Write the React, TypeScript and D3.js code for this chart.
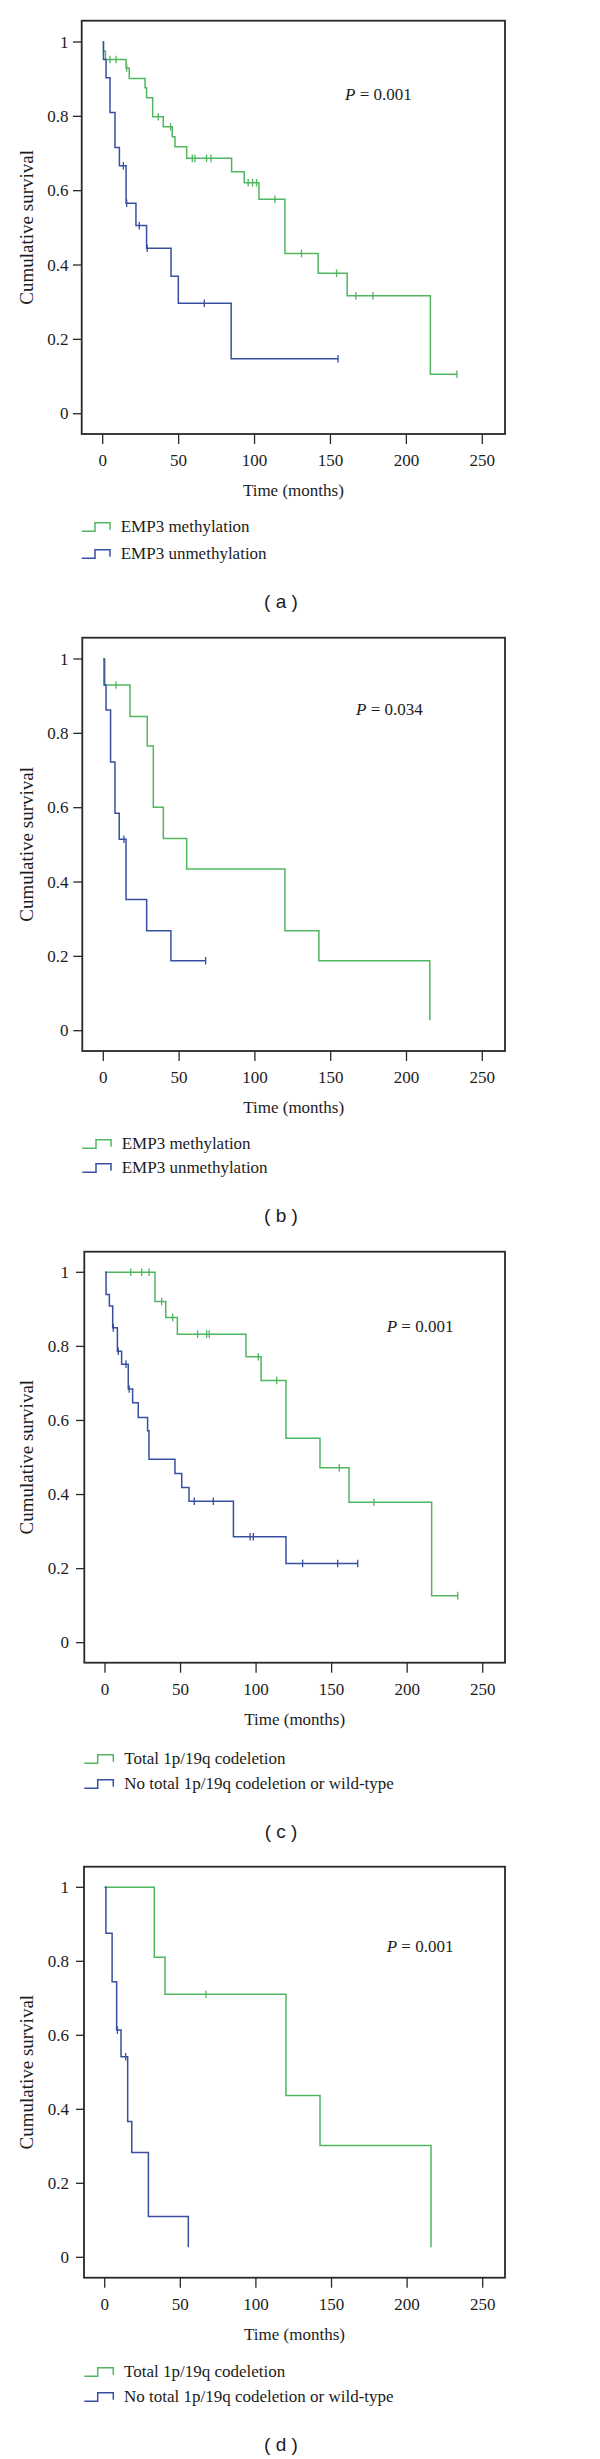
import React from 'react';
import * as d3 from 'd3';

// ---------- shared axis values ----------
const xTicks = [0, 50, 100, 150, 200, 250];
const yTicks = [0, 0.2, 0.4, 0.6, 0.8, 1];

// ---------- panel (a): EMP3, all ----------
const aMethTimes = [0, 0.5, 1.8, 15.4, 17.5, 27.9, 28.9, 32.9, 39.9, 45.8, 47.6, 55.3, 84.9, 93.2, 102.9, 120, 141.9, 161, 215.8];
const aMethSurv = [1, 0.976, 0.953, 0.93, 0.902, 0.877, 0.85, 0.799, 0.772, 0.745, 0.718, 0.687, 0.651, 0.6215, 0.577, 0.431, 0.378, 0.317, 0.106];
const aMethCensor = [4.8, 8.8, 15.8, 36.6, 44.7, 59, 60.7, 68.4, 71.3, 95.8, 98.7, 101.3, 113.4, 130.9, 154, 166.7, 178, 233.3];
const aUnTimes = [0, 0.5, 2.2, 4.8, 8.1, 11, 15.4, 21.9, 28.9, 45, 49.8, 84.6];
const aUnSurv = [1, 0.953, 0.904, 0.81, 0.716, 0.667, 0.566, 0.506, 0.445, 0.3695, 0.297, 0.148];
const aUnCensor = [13.6, 15.8, 24.1, 29.3, 66.9, 155];

// ---------- panel (b) ----------
const bMethTimes = [0, 1, 17.6, 29, 33, 39.6, 55, 119.8, 142.2, 215.4];
const bMethSurv = [1, 0.93, 0.845, 0.766, 0.601, 0.517, 0.435, 0.269, 0.188, 0.028];
const bMethCensor = [8.4];
const bUnTimes = [0, 0.5, 1.8, 4.8, 7.7, 10.5, 15, 28.6, 44.6];
const bUnSurv = [1, 0.93, 0.863, 0.723, 0.585, 0.515, 0.353, 0.269, 0.188];
const bUnCensor = [13.6, 67.5];

// ---------- panel (c) ----------
const cCodelTimes = [0, 33.1, 40.2, 47.9, 93.3, 103.3, 119.8, 142.3, 161.5, 216.2];
const cCodelSurv = [1, 0.921, 0.878, 0.833, 0.772, 0.708, 0.552, 0.472, 0.379, 0.127];
const cCodelCensor = [17, 24.3, 29.2, 37.5, 44.8, 61.3, 67.3, 69, 101.5, 113.6, 155.1, 178, 233.5];
const cNoTimes = [0, 0.7, 2.9, 5.1, 8.2, 11, 15.4, 18.3, 22, 28.2, 29.1, 46.3, 50.8, 55.6, 85, 119.8];
const cNoSurv = [1, 0.94, 0.909, 0.85, 0.787, 0.752, 0.685, 0.648, 0.608, 0.572, 0.495, 0.457, 0.419, 0.382, 0.286, 0.214];
const cNoCensor = [5.5, 8.8, 13.9, 16, 59.1, 71.7, 96, 98.2, 130.8, 154, 167.3];

// ---------- panel (d) ----------
const dCodelTimes = [0, 32.8, 39.9, 119.9, 142.4, 215.8];
const dCodelSurv = [1, 0.811, 0.711, 0.437, 0.302, 0.027];
const dCodelCensor = [67];
const dNoTimes = [0, 0.8, 4.9, 7.9, 10.8, 15.2, 17.9, 28.9, 55.3];
const dNoSurv = [1, 0.876, 0.745, 0.614, 0.542, 0.367, 0.283, 0.11, 0.027];
const dNoCensor = [8.4, 13.9];

const legendEMP3 = ['EMP3 methylation', 'EMP3 unmethylation'];
const legend1p19q = ['Total 1p/19q codeletion', 'No total 1p/19q codeletion or wild-type'];
const pValues = ['0.001', '0.034', '0.001', '0.001'];
const captions = ['( a )', '( b )', '( c )', '( d )'];

const GREEN = '#50b660';
const BLUE = '#3750a2';
const INK = '#1c1c1c';
const SERIF = "'Liberation Serif', 'Times New Roman', serif";
const SANS = "'Liberation Sans', Arial, sans-serif";

type Curve = { times: number[]; surv: number[]; censor: number[]; color: string };

type PanelCfg = {
  frame: [number, number, number, number]; // left, top, right, bottom
  x0: number; x250: number; y1: number; y0: number;
  tickStart: number; labelEnd: number;
  pX: number; pY: number; p: string;
  legend: string[]; legX: number; legStep: number; legEnd: number; legTextX: number; legY: number[];
  caption: string; capY: number;
  curves: Curve[];
};

const panels: PanelCfg[] = [
  {
    frame: [81.7, 20.7, 505, 434], x0: 102.7, x250: 482.3, y1: 42, y0: 413.7,
    tickStart: 73, labelEnd: 68.5, pX: 345, pY: 100, p: pValues[0],
    legend: legendEMP3, legX: 81.7, legStep: 95, legEnd: 110, legTextX: 120.7, legY: [532.3, 559.3],
    caption: captions[0], capY: 600.7,
    curves: [
      { times: aMethTimes, surv: aMethSurv, censor: aMethCensor, color: GREEN },
      { times: aUnTimes, surv: aUnSurv, censor: aUnCensor, color: BLUE },
    ],
  },
  {
    frame: [82.3, 637.7, 505, 1051], x0: 103.3, x250: 482.3, y1: 659, y0: 1030.7,
    tickStart: 73.3, labelEnd: 68.5, pX: 356, pY: 715, p: pValues[1],
    legend: legendEMP3, legX: 82.3, legStep: 96, legEnd: 111, legTextX: 121.7, legY: [1149.3, 1173.3],
    caption: captions[1], capY: 1215,
    curves: [
      { times: bMethTimes, surv: bMethSurv, censor: bMethCensor, color: GREEN },
      { times: bUnTimes, surv: bUnSurv, censor: bUnCensor, color: BLUE },
    ],
  },
  {
    frame: [84.3, 1251.7, 505, 1662.7], x0: 105, x250: 482.7, y1: 1272.3, y0: 1642.7,
    tickStart: 76, labelEnd: 69, pX: 386.7, pY: 1332, p: pValues[2],
    legend: legend1p19q, legX: 84.3, legStep: 97.7, legEnd: 113.3, legTextX: 124.3, legY: [1764.3, 1789.3],
    caption: captions[2], capY: 1831.5,
    curves: [
      { times: cCodelTimes, surv: cCodelSurv, censor: cCodelCensor, color: GREEN },
      { times: cNoTimes, surv: cNoSurv, censor: cNoCensor, color: BLUE },
    ],
  },
  {
    frame: [84, 1866.7, 505, 2277.7], x0: 104.7, x250: 482.7, y1: 1887.3, y0: 2257.3,
    tickStart: 76, labelEnd: 69, pX: 386.7, pY: 1951.7, p: pValues[3],
    legend: legend1p19q, legX: 84.3, legStep: 97.7, legEnd: 113.3, legTextX: 124, legY: [2377.3, 2402.3],
    caption: captions[3], capY: 2444,
    curves: [
      { times: dCodelTimes, surv: dCodelSurv, censor: dCodelCensor, color: GREEN },
      { times: dNoTimes, surv: dNoSurv, censor: dNoCensor, color: BLUE },
    ],
  },
];

function survAt(c: Curve, t: number) {
  const i = d3.bisectRight(c.times, t) - 1;
  return c.surv[Math.max(0, i)];
}

const yFmt = (d: number) => d3.format('~g')(d);

function KMPanel({ cfg }: { cfg: PanelCfg }) {
  const [L, T, R, B] = cfg.frame;
  const x = d3.scaleLinear().domain([0, 250]).range([cfg.x0, cfg.x250]);
  const y = d3.scaleLinear().domain([0, 1]).range([cfg.y0, cfg.y1]);
  const line = d3
    .line<[number, number]>()
    .x((d) => x(d[0]))
    .y((d) => y(d[1]))
    .curve(d3.curveStepAfter);

  return (
    <g>
      {/* curves */}
      {cfg.curves.map((c, ci) => {
        const pts: [number, number][] = c.times.map((t, i) => [t, c.surv[i]]);
        const tEnd = Math.max(c.times[c.times.length - 1], ...(c.censor.length ? c.censor : [0]));
        if (tEnd > c.times[c.times.length - 1]) pts.push([tEnd, c.surv[c.surv.length - 1]]);
        return (
          <g key={ci}>
            <path d={line(pts) || ''} fill="none" stroke={c.color} strokeWidth={1.5} />
            {c.censor.map((t, k) => {
              const cx = x(t);
              const cy = y(survAt(c, t));
              return (
                <line key={k} x1={cx} x2={cx} y1={cy - 3.8} y2={cy + 3.8} stroke={c.color} strokeWidth={1.3} />
              );
            })}
          </g>
        );
      })}

      {/* frame */}
      <rect x={L} y={T} width={R - L} height={B - T} fill="none" stroke="#282828" strokeWidth={1.8} />

      {/* y axis */}
      {yTicks.map((v) => (
        <g key={v}>
          <line x1={cfg.tickStart} x2={L} y1={y(v)} y2={y(v)} stroke="#282828" strokeWidth={1.3} />
          <text x={cfg.labelEnd} y={y(v)} dy="0.33em" textAnchor="end" fontFamily={SERIF} fontSize={17} fill={INK}>
            {yFmt(v)}
          </text>
        </g>
      ))}
      <text
        transform={`translate(27,${(T + B) / 2}) rotate(-90)`}
        textAnchor="middle"
        dy="0.33em"
        fontFamily={SERIF}
        fontSize={19}
        fill={INK}
      >
        Cumulative survival
      </text>

      {/* x axis */}
      {xTicks.map((v) => (
        <g key={v}>
          <line x1={x(v)} x2={x(v)} y1={B} y2={B + 10} stroke="#282828" strokeWidth={1.3} />
          <text x={x(v)} y={B + 32} textAnchor="middle" fontFamily={SERIF} fontSize={17} fill={INK}>
            {v}
          </text>
        </g>
      ))}
      <text x={(L + R) / 2} y={B + 62} textAnchor="middle" fontFamily={SERIF} fontSize={17} fill={INK}>
        Time (months)
      </text>

      {/* p value */}
      <text x={cfg.pX} y={cfg.pY} fontFamily={SERIF} fontSize={17} fill={INK}>
        <tspan fontStyle="italic">P</tspan>
        <tspan> = {cfg.p}</tspan>
      </text>

      {/* legend */}
      {cfg.legend.map((name, i) => {
        const by = cfg.legY[i];
        const color = cfg.curves[i].color;
        const lo = by - 1;
        const hi = by - 9.5;
        return (
          <g key={name}>
            <path
              d={`M${cfg.legX},${lo} H${cfg.legStep} V${hi} H${cfg.legEnd} V${lo - 1.5}`}
              fill="none"
              stroke={color}
              strokeWidth={1.5}
            />
            <text x={cfg.legTextX} y={by} fontFamily={SERIF} fontSize={17} fill={INK}>
              {name}
            </text>
          </g>
        );
      })}

      {/* caption */}
      <text x={281} y={cfg.capY} dy="0.36em" textAnchor="middle" fontFamily={SANS} fontSize={19} fill={INK}>
        {cfg.caption}
      </text>
    </g>
  );
}

export default function App() {
  return (
    <svg
      width={600}
      height={2459}
      viewBox="0 0 600 2459"
      style={{ position: 'absolute', left: 0, top: 0, background: '#fff' }}
    >
      <rect x={0} y={0} width={600} height={2459} fill="#fff" />
      {panels.map((p, i) => (
        <KMPanel key={i} cfg={p} />
      ))}
    </svg>
  );
}
